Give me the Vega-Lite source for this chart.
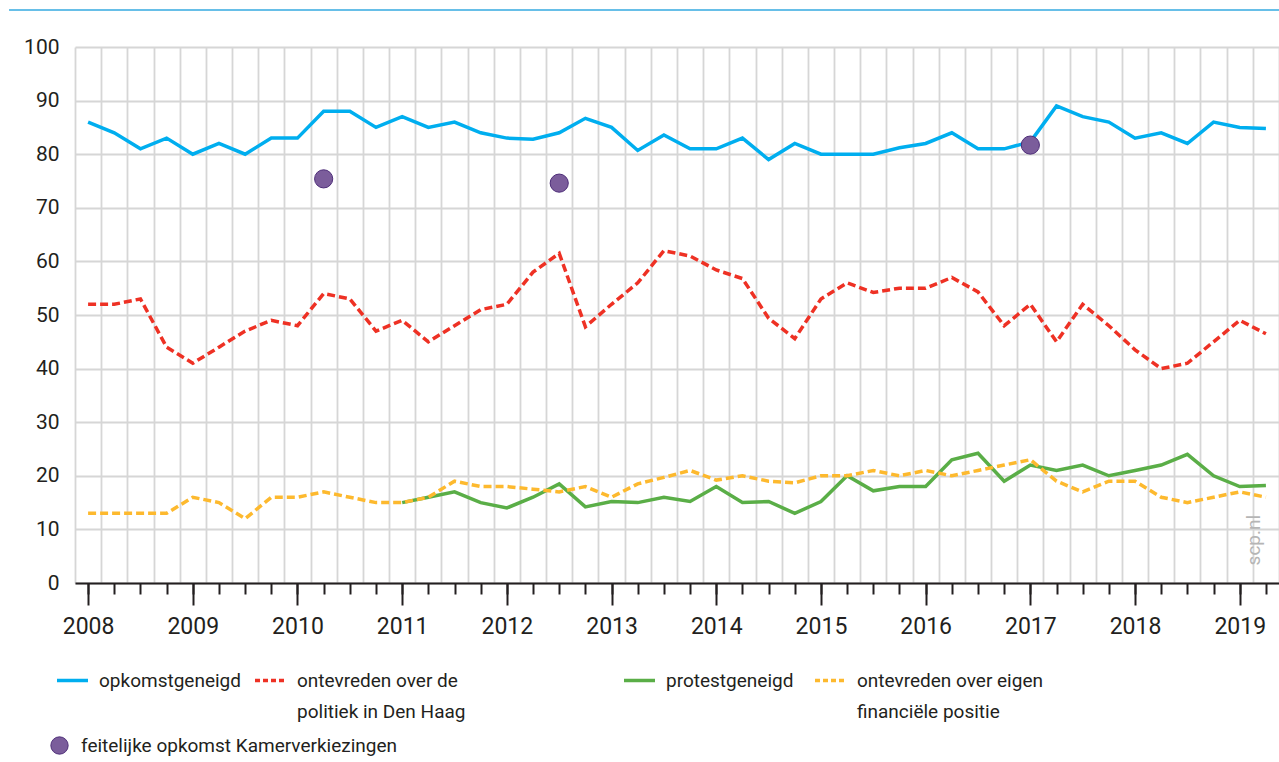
{
  "$schema": "https://vega.github.io/schema/vega-lite/v6.json",
  "width": 1204,
  "height": 536,
  "autosize": {"type": "none"},
  "padding": {"left": 75, "top": 47, "right": 0, "bottom": 179},
  "background": "white",
  "config": {
    "view": {"stroke": null},
    "axis": {"labelFont": "Roboto", "labelColor": "#231f20", "title": null},
    "legend": {"labelFont": "Roboto", "labelFontSize": 19, "labelColor": "#231f20", "labelLimit": 400, "padding": 0, "title": null, "orient": "none"}
  },
  "datasets": {
    "reeksen": [
      {"jaar": 2008.00, "opk": 86, "pol": 52, "prot": null, "fin": 13, "verk": null},
      {"jaar": 2008.25, "opk": 84, "pol": 52, "prot": null, "fin": 13, "verk": null},
      {"jaar": 2008.50, "opk": 81, "pol": 53, "prot": null, "fin": 13, "verk": null},
      {"jaar": 2008.75, "opk": 83, "pol": 44, "prot": null, "fin": 13, "verk": null},
      {"jaar": 2009.00, "opk": 80, "pol": 41, "prot": null, "fin": 16, "verk": null},
      {"jaar": 2009.25, "opk": 82, "pol": 44, "prot": null, "fin": 15, "verk": null},
      {"jaar": 2009.50, "opk": 80, "pol": 47, "prot": null, "fin": 12, "verk": null},
      {"jaar": 2009.75, "opk": 83, "pol": 49, "prot": null, "fin": 16, "verk": null},
      {"jaar": 2010.00, "opk": 83, "pol": 48, "prot": null, "fin": 16, "verk": null},
      {"jaar": 2010.25, "opk": 88, "pol": 54, "prot": null, "fin": 17, "verk": 75.4},
      {"jaar": 2010.50, "opk": 88, "pol": 53, "prot": null, "fin": 16, "verk": null},
      {"jaar": 2010.75, "opk": 85, "pol": 47, "prot": null, "fin": 15, "verk": null},
      {"jaar": 2011.00, "opk": 87, "pol": 49, "prot": 15, "fin": 15, "verk": null},
      {"jaar": 2011.25, "opk": 85, "pol": 45, "prot": 16, "fin": 16, "verk": null},
      {"jaar": 2011.50, "opk": 86, "pol": 48, "prot": 17, "fin": 19, "verk": null},
      {"jaar": 2011.75, "opk": 84, "pol": 51, "prot": 15, "fin": 18, "verk": null},
      {"jaar": 2012.00, "opk": 83, "pol": 52, "prot": 14, "fin": 18, "verk": null},
      {"jaar": 2012.25, "opk": 82.8, "pol": 58, "prot": 16, "fin": 17.5, "verk": null},
      {"jaar": 2012.50, "opk": 84, "pol": 61.5, "prot": 18.5, "fin": 17, "verk": 74.6},
      {"jaar": 2012.75, "opk": 86.7, "pol": 47.8, "prot": 14.2, "fin": 18, "verk": null},
      {"jaar": 2013.00, "opk": 85, "pol": 52, "prot": 15.2, "fin": 16, "verk": null},
      {"jaar": 2013.25, "opk": 80.7, "pol": 56, "prot": 15, "fin": 18.5, "verk": null},
      {"jaar": 2013.50, "opk": 83.6, "pol": 62, "prot": 16, "fin": 19.7, "verk": null},
      {"jaar": 2013.75, "opk": 81, "pol": 61, "prot": 15.2, "fin": 21, "verk": null},
      {"jaar": 2014.00, "opk": 81, "pol": 58.4, "prot": 18, "fin": 19.2, "verk": null},
      {"jaar": 2014.25, "opk": 83, "pol": 56.8, "prot": 15, "fin": 20, "verk": null},
      {"jaar": 2014.50, "opk": 79, "pol": 49.4, "prot": 15.2, "fin": 19, "verk": null},
      {"jaar": 2014.75, "opk": 82, "pol": 45.6, "prot": 13, "fin": 18.7, "verk": null},
      {"jaar": 2015.00, "opk": 80, "pol": 53, "prot": 15.2, "fin": 20, "verk": null},
      {"jaar": 2015.25, "opk": 80, "pol": 56, "prot": 20, "fin": 20, "verk": null},
      {"jaar": 2015.50, "opk": 80, "pol": 54.2, "prot": 17.2, "fin": 21, "verk": null},
      {"jaar": 2015.75, "opk": 81.2, "pol": 55, "prot": 18, "fin": 20, "verk": null},
      {"jaar": 2016.00, "opk": 82, "pol": 55, "prot": 18, "fin": 21, "verk": null},
      {"jaar": 2016.25, "opk": 84, "pol": 57, "prot": 23, "fin": 20, "verk": null},
      {"jaar": 2016.50, "opk": 81, "pol": 54.3, "prot": 24.2, "fin": 21, "verk": null},
      {"jaar": 2016.75, "opk": 81, "pol": 48, "prot": 19, "fin": 22, "verk": null},
      {"jaar": 2017.00, "opk": 82.3, "pol": 52, "prot": 22, "fin": 23, "verk": 81.7},
      {"jaar": 2017.25, "opk": 89, "pol": 45, "prot": 21, "fin": 19, "verk": null},
      {"jaar": 2017.50, "opk": 87, "pol": 52, "prot": 22, "fin": 17, "verk": null},
      {"jaar": 2017.75, "opk": 86, "pol": 48, "prot": 20, "fin": 19, "verk": null},
      {"jaar": 2018.00, "opk": 83, "pol": 43.5, "prot": 21, "fin": 19, "verk": null},
      {"jaar": 2018.25, "opk": 84, "pol": 40, "prot": 22, "fin": 16, "verk": null},
      {"jaar": 2018.50, "opk": 82, "pol": 41, "prot": 24, "fin": 15, "verk": null},
      {"jaar": 2018.75, "opk": 86, "pol": 45, "prot": 20, "fin": 16, "verk": null},
      {"jaar": 2019.00, "opk": 85, "pol": 49, "prot": 18, "fin": 17, "verk": null},
      {"jaar": 2019.25, "opk": 84.8, "pol": 46.5, "prot": 18.2, "fin": 16, "verk": null}
    ]
  },
  "data": {"name": "reeksen"},
  "resolve": {
    "scale": {"color": "independent"},
    "legend": {"color": "independent"},
    "axis": {"x": "independent", "y": "independent"}
  },
  "layer": [
    {
      "data": {"values": [{"deco": "top"}]},
      "mark": {"type": "rule", "color": "#35aae0", "strokeWidth": 1.5},
      "encoding": {
        "x": {"datum": 2007.245, "type": "quantitative", "scale": {"domain": [2007.875, 2019.375], "nice": false, "zero": false}, "axis": null},
        "x2": {"datum": 2019.375},
        "y": {"datum": 106.9, "type": "quantitative", "scale": {"domain": [0, 100], "nice": false}, "axis": null}
      }
    },
    {
      "mark": {"type": "line", "strokeWidth": 3.5, "strokeJoin": "miter"},
      "encoding": {
        "x": {"field": "jaar", "type": "quantitative", "scale": {"domain": [2007.875, 2019.375], "nice": false, "zero": false},
          "axis": {"orient": "bottom", "grid": true, "gridColor": "#d6d6d6", "gridWidth": 1.8, "ticks": false, "labels": false, "domain": false,
            "values": [2007.875, 2008.125, 2008.375, 2008.625, 2008.875, 2009.125, 2009.375, 2009.625, 2009.875, 2010.125, 2010.375, 2010.625, 2010.875, 2011.125, 2011.375, 2011.625, 2011.875, 2012.125, 2012.375, 2012.625, 2012.875, 2013.125, 2013.375, 2013.625, 2013.875, 2014.125, 2014.375, 2014.625, 2014.875, 2015.125, 2015.375, 2015.625, 2015.875, 2016.125, 2016.375, 2016.625, 2016.875, 2017.125, 2017.375, 2017.625, 2017.875, 2018.125, 2018.375, 2018.625, 2018.875, 2019.125, 2019.375]}},
        "y": {"field": "opk", "type": "quantitative", "scale": {"domain": [0, 100], "nice": false},
          "axis": {"orient": "left", "values": [0, 10, 20, 30, 40, 50, 60, 70, 80, 90, 100], "grid": true, "gridColor": "#d6d6d6", "gridWidth": 1.8, "domain": false, "ticks": false, "labels": true, "labelPadding": 16, "labelFontSize": 21}},
        "color": {"datum": "opkomstgeneigd", "scale": {"range": ["#00aeef"]},
          "legend": {"legendX": -20, "legendY": 616, "symbolType": "stroke", "symbolSize": 961, "symbolStrokeWidth": 3.5, "labelOffset": 9}}
      }
    },
    {
      "mark": {"type": "line", "strokeWidth": 3.5, "strokeDash": [8, 4]},
      "encoding": {
        "x": {"field": "jaar", "type": "quantitative",
          "axis": {"orient": "bottom", "grid": false, "labels": false, "domain": false, "ticks": true, "tickSize": 11, "tickWidth": 2, "tickColor": "#231f20",
            "values": [2008, 2008.25, 2008.5, 2008.75, 2009, 2009.25, 2009.5, 2009.75, 2010, 2010.25, 2010.5, 2010.75, 2011, 2011.25, 2011.5, 2011.75, 2012, 2012.25, 2012.5, 2012.75, 2013, 2013.25, 2013.5, 2013.75, 2014, 2014.25, 2014.5, 2014.75, 2015, 2015.25, 2015.5, 2015.75, 2016, 2016.25, 2016.5, 2016.75, 2017, 2017.25, 2017.5, 2017.75, 2018, 2018.25, 2018.5, 2018.75, 2019, 2019.25]}},
        "y": {"field": "pol", "type": "quantitative", "axis": null},
        "color": {"datum": "ontevreden over de politiek in Den Haag", "scale": {"range": ["#ee3124"]},
          "legend": {"legendX": 178, "legendY": 616, "symbolType": "stroke", "symbolSize": 961, "symbolStrokeWidth": 3.5, "symbolDash": [5, 3], "labelOffset": 9,
            "labelExpr": "['ontevreden over de', 'politiek in Den Haag']",
            "encode": {"labels": {"update": {"lineHeight": {"value": 31}}}}}}
      }
    },
    {
      "mark": {"type": "line", "strokeWidth": 3.5},
      "encoding": {
        "x": {"field": "jaar", "type": "quantitative", "axis": null},
        "y": {"field": "prot", "type": "quantitative", "axis": null},
        "color": {"datum": "protestgeneigd", "scale": {"range": ["#5aae47"]},
          "legend": {"legendX": 547, "legendY": 616, "symbolType": "stroke", "symbolSize": 961, "symbolStrokeWidth": 3.5, "labelOffset": 9}}
      }
    },
    {
      "mark": {"type": "line", "strokeWidth": 3.5, "strokeDash": [8, 4]},
      "encoding": {
        "x": {"field": "jaar", "type": "quantitative", "axis": null},
        "y": {"field": "fin", "type": "quantitative", "axis": null},
        "color": {"datum": "ontevreden over eigen financiële positie", "scale": {"range": ["#fdb92e"]},
          "legend": {"legendX": 738, "legendY": 616, "symbolType": "stroke", "symbolSize": 961, "symbolStrokeWidth": 3.5, "symbolDash": [5, 3], "labelOffset": 9,
            "labelExpr": "['ontevreden over eigen', 'financiële positie']",
            "encode": {"labels": {"update": {"lineHeight": {"value": 31}}}}}}
      }
    },
    {
      "mark": {"type": "point", "filled": true, "size": 330, "opacity": 1, "stroke": "#4d2d78", "strokeWidth": 1},
      "encoding": {
        "x": {"field": "jaar", "type": "quantitative",
          "axis": {"orient": "bottom", "grid": false, "labels": true, "format": "d", "labelFontSize": 23, "labelPadding": 10, "domain": true, "domainColor": "#231f20", "domainWidth": 2, "ticks": true, "tickSize": 22, "tickWidth": 2, "tickColor": "#231f20",
            "values": [2008, 2009, 2010, 2011, 2012, 2013, 2014, 2015, 2016, 2017, 2018, 2019]}},
        "y": {"field": "verk", "type": "quantitative", "axis": null},
        "color": {"datum": "feitelijke opkomst Kamerverkiezingen", "scale": {"range": ["#7b5d9b"]},
          "legend": {"legendX": -25, "legendY": 689, "symbolType": "circle", "symbolSize": 300, "symbolStrokeColor": "#4d2d78", "symbolStrokeWidth": 1, "symbolFillColor": "#7b5d9b", "labelOffset": 12}}
      }
    },
    {
      "data": {"values": [{"bron": "scp.nl"}]},
      "mark": {"type": "text", "angle": 270, "align": "center", "baseline": "middle", "font": "Roboto", "fontSize": 19, "color": "#b5b5b5"},
      "encoding": {
        "x": {"datum": 2019.135, "type": "quantitative", "axis": null},
        "y": {"datum": 8, "type": "quantitative", "axis": null},
        "text": {"field": "bron"}
      }
    }
  ]
}
